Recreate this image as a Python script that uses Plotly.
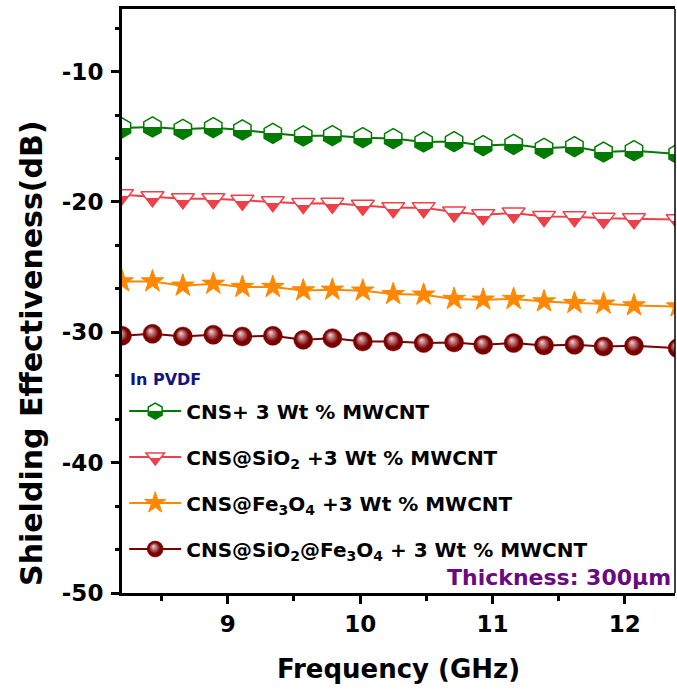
import plotly.graph_objects as go

freq = [8.20, 8.43, 8.66, 8.89, 9.11, 9.34, 9.57, 9.79, 10.02, 10.25,
        10.48, 10.71, 10.93, 11.16, 11.39, 11.62, 11.84, 12.07, 12.40]

se_cns = [-14.32, -14.25, -14.43, -14.30, -14.48, -14.74, -14.94, -14.91, -15.07, -15.14,
          -15.40, -15.37, -15.68, -15.58, -15.89, -15.76, -16.17, -16.07, -16.32]
se_sio2 = [-19.44, -19.60, -19.75, -19.75, -19.88, -19.98, -20.13, -20.11, -20.26, -20.44,
           -20.44, -20.77, -20.98, -20.85, -21.11, -21.13, -21.26, -21.29, -21.36]
se_fe3o4 = [-26.10, -26.10, -26.43, -26.28, -26.53, -26.53, -26.79, -26.74, -26.81, -27.07,
            -27.12, -27.45, -27.50, -27.45, -27.64, -27.76, -27.81, -27.94, -28.02]
se_sio2_fe3o4 = [-30.27, -30.12, -30.32, -30.19, -30.32, -30.27, -30.58, -30.45, -30.71, -30.71,
                 -30.83, -30.78, -30.96, -30.83, -31.01, -30.96, -31.09, -31.04, -31.22]

names = ["CNS+ 3 Wt % MWCNT",
         "CNS@SiO<sub>2</sub> +3 Wt % MWCNT",
         "CNS@Fe<sub>3</sub>O<sub>4</sub> +3 Wt % MWCNT",
         "CNS@SiO<sub>2</sub>@Fe<sub>3</sub>O<sub>4</sub> + 3 Wt % MWCNT"]

x_ticks = [9, 10, 11, 12]
x_minor = [8.5, 9.5, 10.5, 11.5]
y_ticks = [-50, -40, -30, -20, -10]
y_ticktext = ["-50", "-40", "-30", "-20", "-10"]
y_minor = [-46.667, -43.333, -36.667, -33.333, -26.667, -23.333, -16.667, -13.333, -6.667]

X_RANGE = [8.2, 12.38]
Y_RANGE = [-50, -5.2]

GREEN = "#007a00"
RED = "#ee4048"
ORANGE = "#ff8800"
MAROON = "#7a0000"
FONT = "DejaVu Sans"

fig = go.Figure()
fig.add_trace(go.Scatter(
    x=freq, y=se_cns, name=names[0], mode="lines+markers", legendgroup="g0",
    line=dict(color=GREEN, width=2),
    marker=dict(symbol="hexagon", size=20, color="white",
                gradient=dict(type="vertical", color=GREEN),
                line=dict(color=GREEN, width=1.5))))
fig.add_trace(go.Scatter(
    x=freq, y=se_sio2, name=names[1], mode="lines+markers", legendgroup="g1",
    line=dict(color=RED, width=2),
    marker=dict(symbol="triangle-down", size=20, color="white",
                gradient=dict(type="vertical", color=RED),
                line=dict(color=RED, width=1.5))))
fig.add_trace(go.Scatter(
    x=freq, y=se_fe3o4, name=names[2], mode="lines+markers", legendgroup="g2",
    line=dict(color=ORANGE, width=2),
    marker=dict(symbol="star", size=17, color=ORANGE,
                line=dict(color=ORANGE, width=1))))
fig.add_trace(go.Scatter(
    x=freq, y=se_sio2_fe3o4, name=names[3], mode="lines+markers", legendgroup="g3",
    line=dict(color=MAROON, width=2),
    marker=dict(symbol="circle", size=19, color=MAROON,
                gradient=dict(type="radial", color="#f4d6dc"),
                line=dict(color=MAROON, width=0.5))))

fig.add_annotation(text="In PVDF", xref="paper", yref="paper", x=0.01, y=0.365,
                   xanchor="left", yanchor="middle", showarrow=False,
                   font=dict(family=FONT, size=16, color="#141480", weight="bold"))
fig.add_annotation(text="Thickness: 300µm", xref="paper", yref="paper", x=0.997, y=0.026,
                   xanchor="right", yanchor="middle", showarrow=False,
                   font=dict(family=FONT, size=22, color="#6a0a80", weight="bold"))
# y-axis title (placed as rotated annotation to match its offset position)
fig.add_annotation(text="Shielding Effectiveness(dB)", xref="paper", yref="paper",
                   x=0, y=0.411, xshift=-90, xanchor="center", yanchor="middle",
                   textangle=-90, showarrow=False,
                   font=dict(family=FONT, size=30, color="black", weight="bold"))

# thin right frame line
fig.add_shape(type="line", xref="paper", yref="paper", x0=1, x1=1, y0=0, y1=1,
              line=dict(color="black", width=1.5))

fig.update_layout(
    width=677, height=695,
    margin=dict(l=122, r=2, t=9, b=102),
    paper_bgcolor="white", plot_bgcolor="white",
    showlegend=True,
    legend=dict(x=0.004, y=0.345, xanchor="left", yanchor="top",
                bgcolor="rgba(0,0,0,0)", tracegroupgap=17,
                font=dict(family=FONT, size=20, color="black", weight="bold"),
                itemwidth=52),
    xaxis=dict(range=X_RANGE, tickvals=x_ticks, ticks="outside", ticklen=8, tickwidth=2.5,
               tickcolor="black",
               showline=True, linecolor="black", linewidth=3, mirror=True, showgrid=False,
               zeroline=False,
               minor=dict(tickmode="array", tickvals=x_minor, ticks="outside", ticklen=4.5,
                          tickwidth=2.5, tickcolor="black", showgrid=False),
               tickfont=dict(family=FONT, size=23, color="black", weight="bold"),
               title=dict(text="Frequency (GHz)", standoff=25,
                          font=dict(family=FONT, size=26, color="black", weight="bold"))),
    yaxis=dict(range=Y_RANGE, tickvals=y_ticks, ticktext=y_ticktext, ticks="outside",
               ticklen=8, tickwidth=2.5, tickcolor="black",
               showline=True, linecolor="black", linewidth=3, mirror=False, showgrid=False,
               zeroline=False,
               minor=dict(tickmode="array", tickvals=y_minor, ticks="outside", ticklen=4.5,
                          tickwidth=2.5, tickcolor="black", showgrid=False),
               tickfont=dict(family=FONT, size=23, color="black", weight="bold")),
)
try:
    fig.update_layout(yaxis_ticklabelstandoff=3)
except Exception:
    pass

post = """
var gd = document.getElementById('{plot_id}');
gd.querySelectorAll('linearGradient').forEach(function(g){
  var stops = Array.prototype.slice.call(g.querySelectorAll('stop'));
  if (stops.length < 2) return;
  var y1 = parseFloat(g.getAttribute('y1') || '0');
  var y2 = parseFloat(g.getAttribute('y2') || '0');
  var topIsFirst = !(y1 > y2);
  var first = stops[0], last = stops[stops.length - 1];
  var bottomStop = topIsFirst ? last : first;
  var bc = (bottomStop.getAttribute('stop-color') || '').replace(/\\s/g, '');
  var frac = (bc.indexOf('238,64,72') >= 0 || bc.toLowerCase().indexOf('ee4048') >= 0) ? 0.4 : 0.5;
  var off = topIsFirst ? frac : 1 - frac;
  stops.forEach(function(s){ s.setAttribute('offset', (off * 100) + '%'); });
});
gd.querySelectorAll('radialGradient').forEach(function(g){
  g.setAttribute('fx', '38%'); g.setAttribute('fy', '32%');
  var arr = Array.prototype.slice.call(g.querySelectorAll('stop'));
  arr.sort(function(a,b){return parseFloat(a.getAttribute('offset'))-parseFloat(b.getAttribute('offset'));});
  if (arr.length >= 2) { arr[0].setAttribute('offset','0%'); arr[arr.length-1].setAttribute('offset','70%'); }
});
"""
fig.write_html("out.html", post_script=post)
